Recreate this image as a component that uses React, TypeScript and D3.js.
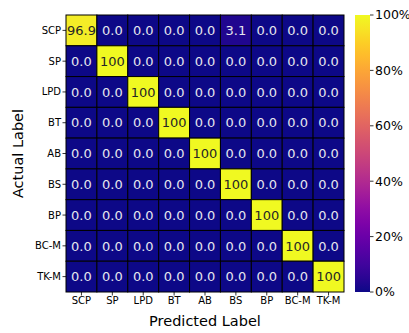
import React from "react";
import * as d3 from "d3";

const labels = ["SCP", "SP", "LPD", "BT", "AB", "BS", "BP", "BC-M", "TK-M"];
const matrix: number[][] = [
  [96.9, 0, 0, 0, 0, 3.1, 0, 0, 0],
  [0, 100, 0, 0, 0, 0, 0, 0, 0],
  [0, 0, 100, 0, 0, 0, 0, 0, 0],
  [0, 0, 0, 100, 0, 0, 0, 0, 0],
  [0, 0, 0, 0, 100, 0, 0, 0, 0],
  [0, 0, 0, 0, 0, 100, 0, 0, 0],
  [0, 0, 0, 0, 0, 0, 100, 0, 0],
  [0, 0, 0, 0, 0, 0, 0, 100, 0],
  [0, 0, 0, 0, 0, 0, 0, 0, 100],
];
const cbTicks = [0, 20, 40, 60, 80, 100];

export default function App() {
  const W = 409, H = 333;
  const left = 66, right = 344, top = 15, bottom = 292;
  const x = d3.scaleBand<string>().domain(labels).range([left, right]);
  const y = d3.scaleBand<string>().domain(labels).range([top, bottom]);
  const color = (v: number) => d3.interpolatePlasma(v / 100);
  const cbX = 355, cbW = 15;
  const cbY = d3.scaleLinear().domain([0, 100]).range([bottom, top]);
  const stops = d3.range(0, 1.0001, 0.05);
  const font = "DejaVu Sans, sans-serif";
  return (
    <svg width={W} height={H} style={{ position: "absolute", left: 0, top: 0 }} fontFamily={font}>
      <defs>
        <linearGradient id="cb" x1="0" y1="1" x2="0" y2="0">
          {stops.map((s) => (
            <stop key={s} offset={s} stopColor={d3.interpolatePlasma(s)} />
          ))}
        </linearGradient>
      </defs>
      <rect width={W} height={H} fill="#fff" />
      {matrix.map((row, i) =>
        row.map((v, j) => (
          <g key={`${i}-${j}`}>
            <rect
              x={x(labels[j])!}
              y={y(labels[i])!}
              width={x.bandwidth()}
              height={y.bandwidth()}
              fill={color(v)}
              stroke="#000"
              strokeWidth={1}
            />
            <text
              x={x(labels[j])! + x.bandwidth() / 2}
              y={y(labels[i])! + y.bandwidth() / 2}
              dy="0.36em"
              textAnchor="middle"
              fontSize={13}
              fill={v > 50 ? "#262626" : "#e6e6ee"}
            >
              {v === 100 ? "100" : v.toFixed(1)}
            </text>
          </g>
        ))
      )}
      {labels.map((l) => (
        <g key={"y" + l}>
          <line x1={left - 3.5} x2={left} y1={y(l)! + y.bandwidth() / 2} y2={y(l)! + y.bandwidth() / 2} stroke="#000" strokeWidth={0.8} />
          <text x={left - 5} y={y(l)! + y.bandwidth() / 2} dy="0.35em" textAnchor="end" fontSize={10} fill="#000">
            {l}
          </text>
        </g>
      ))}
      {labels.map((l) => (
        <g key={"x" + l}>
          <line y1={bottom} y2={bottom + 3.5} x1={x(l)! + x.bandwidth() / 2} x2={x(l)! + x.bandwidth() / 2} stroke="#000" strokeWidth={0.8} />
          <text x={x(l)! + x.bandwidth() / 2} y={bottom + 12} textAnchor="middle" fontSize={10} fill="#000">
            {l}
          </text>
        </g>
      ))}
      <text x={(left + right) / 2} y={326} textAnchor="middle" fontSize={14.5} fill="#000">
        Predicted Label
      </text>
      <text transform={`translate(23, ${(top + bottom) / 2}) rotate(-90)`} textAnchor="middle" fontSize={14.5} fill="#000">
        Actual Label
      </text>
      <rect x={cbX} y={top} width={cbW} height={bottom - top} fill="url(#cb)" />
      {cbTicks.map((t) => (
        <g key={"c" + t}>
          <line x1={cbX + cbW} x2={cbX + cbW + 3.5} y1={cbY(t)} y2={cbY(t)} stroke="#000" strokeWidth={0.8} />
          <text x={cbX + cbW + 5} y={cbY(t)} dy="0.35em" fontSize={12.5} fill="#000">
            {t}%
          </text>
        </g>
      ))}
    </svg>
  );
}
